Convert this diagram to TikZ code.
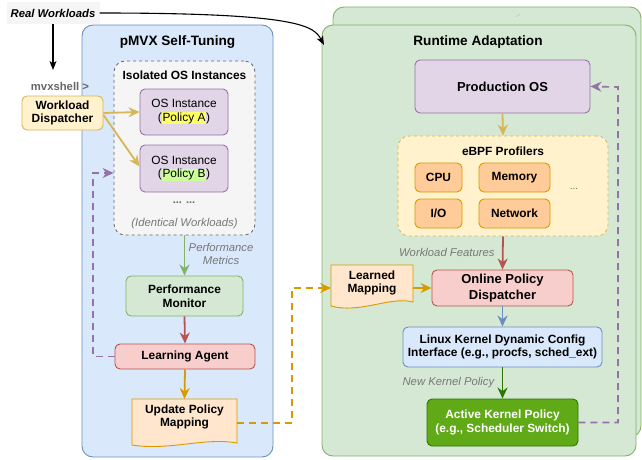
\documentclass[tikz,border=0pt]{standalone}
\usepackage{fontspec}
\setmainfont{Liberation Sans}
\usetikzlibrary{arrows.meta,calc}

% draw.io-like palette
\definecolor{bluef}{HTML}{DAE8FC}\definecolor{bluel}{HTML}{6C8EBF}
\definecolor{greenf}{HTML}{D5E8D4}\definecolor{greenl}{HTML}{82B366}
\definecolor{yellf}{HTML}{FFF2CC}\definecolor{yelll}{HTML}{D6B656}
\definecolor{orf}{HTML}{FFE6CC}\definecolor{orl}{HTML}{D79B00}
\definecolor{redf}{HTML}{F8CECC}\definecolor{redl}{HTML}{B85450}
\definecolor{purf}{HTML}{E1D5E7}\definecolor{purl}{HTML}{9673A6}
\definecolor{grayf}{HTML}{F5F5F5}\definecolor{grayl}{HTML}{666666}
\definecolor{probef}{HTML}{FFCC99}
\definecolor{actf}{HTML}{60A917}\definecolor{actl}{HTML}{2D7600}
\definecolor{hlA}{HTML}{FFFF66}\definecolor{hlB}{HTML}{CCFF99}
\definecolor{notec}{HTML}{777777}

\newcommand\hlbox[2]{{\setlength{\fboxsep}{0.6pt}\colorbox{#1}{#2}}}

\pgfdeclarelayer{bg}
\pgfdeclarelayer{docs}
\pgfsetlayers{bg,docs,main}

\begin{document}
\begin{tikzpicture}[x=1pt,y=-1pt,
  container/.style={draw, line width=0.9pt, rounded corners=11pt, inner sep=0pt},
  box/.style={draw, line width=0.9pt, rounded corners=5pt, align=center, inner sep=0pt,
              font=\fontsize{11.9}{13.6}\selectfont\bfseries},
  plainbox/.style={box, font=\fontsize{11.9}{13.6}\selectfont},
  ttl/.style={font=\fontsize{13.6}{15}\selectfont\bfseries},
  subttl/.style={font=\fontsize{11.9}{13.6}\selectfont\bfseries},
  note/.style={font=\fontsize{11.3}{13}\selectfont\itshape, text=notec, align=center},
  flow/.style={line width=1.8pt, -{Stealth[length=11pt,width=10pt,inset=3.5pt]}},
  loopback/.style={line width=1.6pt, dash pattern=on 7pt off 5pt,
                   -{Stealth[length=11pt,width=10pt,inset=3.5pt]}},
  thin/.style={line width=1.1pt, -{Stealth[length=9pt,width=7pt,inset=2.5pt]}},
  docst/.style={line width=0.9pt, draw=orl, fill=orf}
]
\useasboundingbox (0,0) rectangle (642,460);

% ---------- containers ----------
\begin{pgfonlayer}{bg}
  \node[container, fill=bluef, draw=bluel, minimum width=191pt, minimum height=432pt] (pmvx) at (177.5,241) {};
  \node[container, fill=greenf, draw=greenl, minimum width=308pt, minimum height=430pt] (rtback) at (487,222) {};
  \node[container, fill=greenf, draw=greenl, minimum width=314pt, minimum height=431pt] (rt) at (479,240.5) {};
  \node[container, fill=grayf, draw=grayl, dashed, line width=0.8pt, minimum width=141pt, minimum height=174pt] (iso) at (184.5,148) {};
  \node[container, fill=yellf, draw=yelll, dashed, line width=0.8pt, minimum width=210pt, minimum height=100pt] (ebpf) at (503,186) {};
\end{pgfonlayer}

\node[rotate=40, text=gray, font=\fontsize{6}{6}\selectfont] (more) at (518,16) {...};

% ---------- input ----------
\node[fill=grayf, minimum width=93pt, minimum height=22pt, inner sep=0pt,
      font=\fontsize{11.3}{13}\selectfont\bfseries\itshape] (realw) at (53,13) {Real Workloads};
\coordinate (rwend) at (53,70);
\coordinate (rtentry) at (324,45);
\node[text=grayl, font=\fontsize{11.3}{13}\selectfont\bfseries] (mvx) at (60,86) {mvxshell >};
\node[box, fill=yellf, draw=yelll, minimum width=81pt, minimum height=34pt] (wd) at (62.5,113) {Workload\\Dispatcher};

% ---------- pMVX self-tuning ----------
\node[ttl] (pmvxt) at (177.5,42) {pMVX Self-Tuning};
\node[subttl] (isot) at (184.5,75) {Isolated OS Instances};
\node[plainbox, fill=purf, draw=purl, minimum width=88pt, minimum height=46pt] (osa) at (184,112) {OS Instance\\(\hlbox{hlA}{Policy A})};
\node[plainbox, fill=purf, draw=purl, minimum width=88pt, minimum height=47pt] (osb) at (184,168.5) {OS Instance\\(\hlbox{hlB}{Policy B})};
\node[font=\fontsize{11}{12}\selectfont\bfseries, text=grayl] (osdots) at (184,203) {... ...};
\node[note] (identical) at (184.5,224) {(Identical Workloads)};

\node[box, fill=greenf, draw=greenl, minimum width=117pt, minimum height=40pt] (pm) at (184.5,296) {Performance\\Monitor};
\node[box, fill=redf, draw=redl, minimum width=140pt, minimum height=25pt] (la) at (185,356.5) {Learning Agent};
\node[font=\fontsize{11.9}{13.6}\selectfont\bfseries, align=center] (upm) at (184.5,417) {Update Policy\\Mapping};
\begin{pgfonlayer}{docs}
  \draw[docst] (132,399) -- (237,399) -- (237,443) .. controls (205,437) and (170,451) .. (132,445) -- cycle;
  \draw[docst] (331,265) -- (413,265) -- (413,302) .. controls (390,296) and (360,314) .. (331,306) -- cycle;
\end{pgfonlayer}

% ---------- runtime adaptation ----------
\node[ttl] (rtt) at (478,42) {Runtime Adaptation};
\node[box, fill=purf, draw=purl, minimum width=175pt, minimum height=53pt,
      font=\fontsize{13}{15}\selectfont\bfseries] (prod) at (502.5,86.5) {Production OS};
\node[subttl] (ebpft) at (503,151) {eBPF Profilers};
\node[box, fill=probef, draw=orl, minimum width=47pt, minimum height=29pt] (cpu) at (438.5,177.5) {CPU};
\node[box, fill=probef, draw=orl, minimum width=71pt, minimum height=29pt] (mem) at (514.5,177.5) {Memory};
\node[box, fill=probef, draw=orl, minimum width=47pt, minimum height=29pt] (io) at (438.5,213.5) {I/O};
\node[box, fill=probef, draw=orl, minimum width=71pt, minimum height=29pt] (net) at (514.5,213.5) {Network};
\node[font=\fontsize{10}{11}\selectfont, text=grayl] (prdots) at (574,189) {...};

\node[font=\fontsize{11.9}{13.6}\selectfont\bfseries, align=center] (lm) at (372,283) {Learned\\Mapping};
\node[box, fill=redf, draw=redl, minimum width=141pt, minimum height=36pt,
      font=\fontsize{13}{15.5}\selectfont\bfseries] (opd) at (502.5,288) {Online Policy\\Dispatcher};
\node[box, fill=bluef, draw=bluel, minimum width=199pt, minimum height=40pt] (lk) at (502.5,347) {Linux Kernel Dynamic Config\\Interface (e.g., procfs, sched\_ext)};
\node[box, fill=actf, draw=actl, text=white, minimum width=151pt, minimum height=47pt] (akp) at (502.5,422.5) {Active Kernel Policy\\(e.g., Scheduler Switch)};

% ---------- connectors ----------
\draw[thin] (realw.south) -- (rwend);
\draw[thin] (realw.east) .. controls (300,13) and (314,26) .. (rtentry);

\draw[flow, yelll] (wd.east) -- (osa.west);
\draw[flow, yelll] ([yshift=-2pt]wd.east) -- ([yshift=2pt]osb.west);

\draw[flow, greenl] (iso.south) -- (pm.north)
  node[note, pos=0.45, right=0pt] (pmlbl) {Performance\\Metrics};
\draw[flow, redl] (pm.south) -- (la.north);
\draw[flow, orl] (la.south) -- (upm.north |- 0,399);

\coordinate (fb) at (93,173);
\draw[loopback, purl] (la.west) -| (fb) -- (fb -| iso.west);

\coordinate (om) at (292,288);
\draw[loopback, orl] (237,423) -| (om) -- (331,288);
\draw[flow, orl] (413,288) -- (opd.west);

\draw[flow, yelll] (prod.south) -- (ebpf.north);
\draw[flow, redl] (ebpf.south) -- (opd.north)
  node[note, pos=0.48, left=4pt] (wflbl) {Workload Features};
\draw[flow, bluel] (opd.south) -- (lk.north);
\draw[flow, actl] (lk.south) -- (akp.north)
  node[note, pos=0.5, left=4pt] (nklbl) {New Kernel Policy};

\coordinate (rb) at (618,87);
\draw[loopback, purl] (akp.east) -| (rb) -- (prod.east);
\end{tikzpicture}
\end{document}
